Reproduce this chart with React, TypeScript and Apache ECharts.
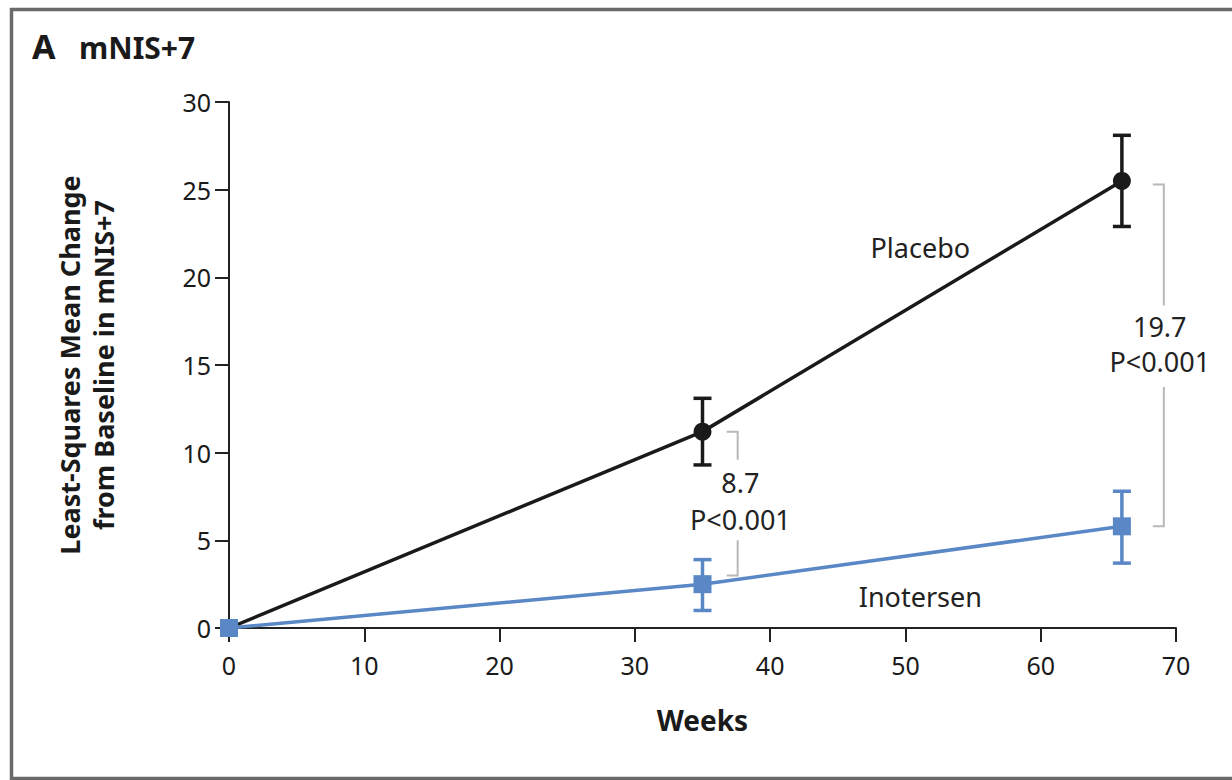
import React, { useEffect, useRef } from "react";
import * as echarts from "echarts";

const weeks = [0, 35, 66];
const placeboMean = [0, 11.2, 25.5];
const placeboLow = [0, 9.3, 22.9];
const placeboHigh = [0, 13.1, 28.1];
const inotersenMean = [0, 2.5, 5.8];
const inotersenLow = [0, 1.0, 3.7];
const inotersenHigh = [0, 3.9, 7.8];

// bracket: x, top, bottom, gapTop, gapBottom
const bracketX = [37.6, 69.1];
const bracketTop = [11.2, 25.3];
const bracketBottom = [3.0, 5.8];
const bracketGapTop = [9.6, 18.4];
const bracketGapBottom = [5.0, 13.75];
const diffLabels = ["8.7", "19.7"];
const diffX = [37.8, 68.8];
const diffY = [8.27, 17.2];
const pLabels = ["P<0.001", "P<0.001"];
const pY = [6.16, 15.2];

const seriesNames = ["Placebo", "Inotersen"];
const seriesLabelX = [51.1, 51.1];
const seriesLabelY = [21.7, 1.77];

const FONT = "'Noto Sans', 'DejaVu Sans', sans-serif";
const BLUE = "#5a87c6";
const BLACK = "#1a1a1a";

export default function App() {
  const ref = useRef<HTMLDivElement>(null);
  useEffect(() => {
    if (!ref.current) return;
    const chart = echarts.init(ref.current, undefined, { renderer: "svg" });

    const errData = (lo: number[], hi: number[]) =>
      weeks.map((w, i) => [w, lo[i], hi[i]]).filter((d) => d[1] !== d[2]);

    const errRender = (color: string) => (params: any, api: any) => {
      const x = api.value(0);
      const lo = api.coord([x, api.value(1)]);
      const hi = api.coord([x, api.value(2)]);
      const hw = 9;
      const st = { stroke: color, lineWidth: 3.5 };
      return {
        type: "group",
        children: [
          { type: "line", shape: { x1: lo[0], y1: lo[1], x2: hi[0], y2: hi[1] }, style: st },
          { type: "line", shape: { x1: lo[0] - hw, y1: lo[1], x2: lo[0] + hw, y2: lo[1] }, style: st },
          { type: "line", shape: { x1: hi[0] - hw, y1: hi[1], x2: hi[0] + hw, y2: hi[1] }, style: st },
        ],
      };
    };

    const bracketData = bracketX.map((x, i) => [
      x,
      bracketTop[i],
      bracketBottom[i],
      bracketGapTop[i],
      bracketGapBottom[i],
    ]);

    const textData: any[] = [];
    diffLabels.forEach((t, i) => textData.push([diffX[i], diffY[i], t]));
    pLabels.forEach((t, i) => textData.push([diffX[i], pY[i], t]));
    seriesNames.forEach((t, i) => textData.push([seriesLabelX[i], seriesLabelY[i], t]));

    chart.setOption({
      animation: false,
      backgroundColor: "#ffffff",
      graphic: [
        {
          type: "rect",
          shape: { x: 11.5, y: 9.5, width: 1240, height: 769 },
          style: { fill: "none", stroke: "#6a6a6a", lineWidth: 3.5 },
          z: 0,
        },
        {
          type: "text",
          x: 32,
          y: 46,
          style: {
            text: "A",
            font: `bold 34px ${FONT}`,
            fill: "#1a1a1a",
            verticalAlign: "middle",
          },
        },
        {
          type: "text",
          x: 79,
          y: 47,
          style: {
            text: "mNIS+7",
            font: `bold 30px ${FONT}`,
            fill: "#1a1a1a",
            verticalAlign: "middle",
          },
        },
      ],
      grid: { left: 229, right: 56, top: 102, bottom: 152, containLabel: false },
      xAxis: {
        type: "value",
        min: 0,
        max: 70,
        interval: 10,
        name: "Weeks",
        nameLocation: "middle",
        nameGap: 78,
        nameTextStyle: { fontFamily: FONT, fontWeight: "bold", fontSize: 28, color: "#1a1a1a" },
        axisLine: { show: true, lineStyle: { color: "#222", width: 2 } },
        axisTick: { show: true, length: 14, lineStyle: { color: "#222", width: 2 } },
        axisLabel: { fontFamily: FONT, fontSize: 25, color: "#1a1a1a", margin: 24 },
        splitLine: { show: false },
      },
      yAxis: {
        type: "value",
        min: 0,
        max: 30,
        interval: 5,
        name: "Least-Squares Mean Change\nfrom Baseline in mNIS+7",
        nameLocation: "middle",
        nameGap: 109,
        nameTextStyle: {
          fontFamily: FONT,
          fontWeight: "bold",
          fontSize: 27,
          color: "#1a1a1a",
          lineHeight: 34,
          align: "center",
        },
        axisLine: { show: true, lineStyle: { color: "#222", width: 2 } },
        axisTick: { show: true, length: 14, lineStyle: { color: "#222", width: 2 } },
        axisLabel: { fontFamily: FONT, fontSize: 25, color: "#1a1a1a", margin: 18 },
        splitLine: { show: false },
      },
      series: [
        {
          type: "custom",
          name: "placeboErr",
          renderItem: errRender(BLACK),
          data: errData(placeboLow, placeboHigh),
          z: 2,
          clip: false,
        },
        {
          type: "custom",
          name: "inoErr",
          renderItem: errRender(BLUE),
          data: errData(inotersenLow, inotersenHigh),
          z: 2,
          clip: false,
        },
        {
          type: "line",
          name: "Placebo",
          data: weeks.map((w, i) => [w, placeboMean[i]]),
          symbol: "circle",
          symbolSize: 18,
          lineStyle: { color: BLACK, width: 3.5 },
          itemStyle: { color: BLACK },
          z: 3,
          clip: false,
        },
        {
          type: "line",
          name: "Inotersen",
          data: weeks.map((w, i) => [w, inotersenMean[i]]),
          symbol: "rect",
          symbolSize: 18,
          lineStyle: { color: BLUE, width: 3.5 },
          itemStyle: { color: BLUE },
          z: 4,
          clip: false,
        },
        {
          type: "custom",
          name: "brackets",
          data: bracketData,
          clip: false,
          renderItem: (params: any, api: any) => {
            const x = api.value(0);
            const t = api.coord([x, api.value(1)]);
            const b = api.coord([x, api.value(2)]);
            const gt = api.coord([x, api.value(3)]);
            const gb = api.coord([x, api.value(4)]);
            const st = { stroke: "#b8b8b8", lineWidth: 2, fill: "none" };
            const tick = 11;
            return {
              type: "group",
              children: [
                {
                  type: "polyline",
                  shape: { points: [[t[0] - tick, t[1]], [t[0], t[1]], [gt[0], gt[1]]] },
                  style: st,
                },
                {
                  type: "polyline",
                  shape: { points: [[gb[0], gb[1]], [b[0], b[1]], [b[0] - tick, b[1]]] },
                  style: st,
                },
              ],
            };
          },
        },
        {
          type: "custom",
          name: "labels",
          data: textData,
          clip: false,
          z: 5,
          renderItem: (params: any, api: any) => {
            const p = api.coord([api.value(0), api.value(1)]);
            return {
              type: "text",
              x: p[0],
              y: p[1],
              style: {
                text: textData[params.dataIndex][2],
                fontFamily: FONT,
                fontSize: 27,
                fill: "#222",
                align: "center",
                verticalAlign: "middle",
              },
            };
          },
        },
      ],
    });
    return () => chart.dispose();
  }, []);
  return (
    <div
      ref={ref}
      style={{ position: "fixed", left: 0, top: 0, width: 1232, height: 780 }}
    />
  );
}
